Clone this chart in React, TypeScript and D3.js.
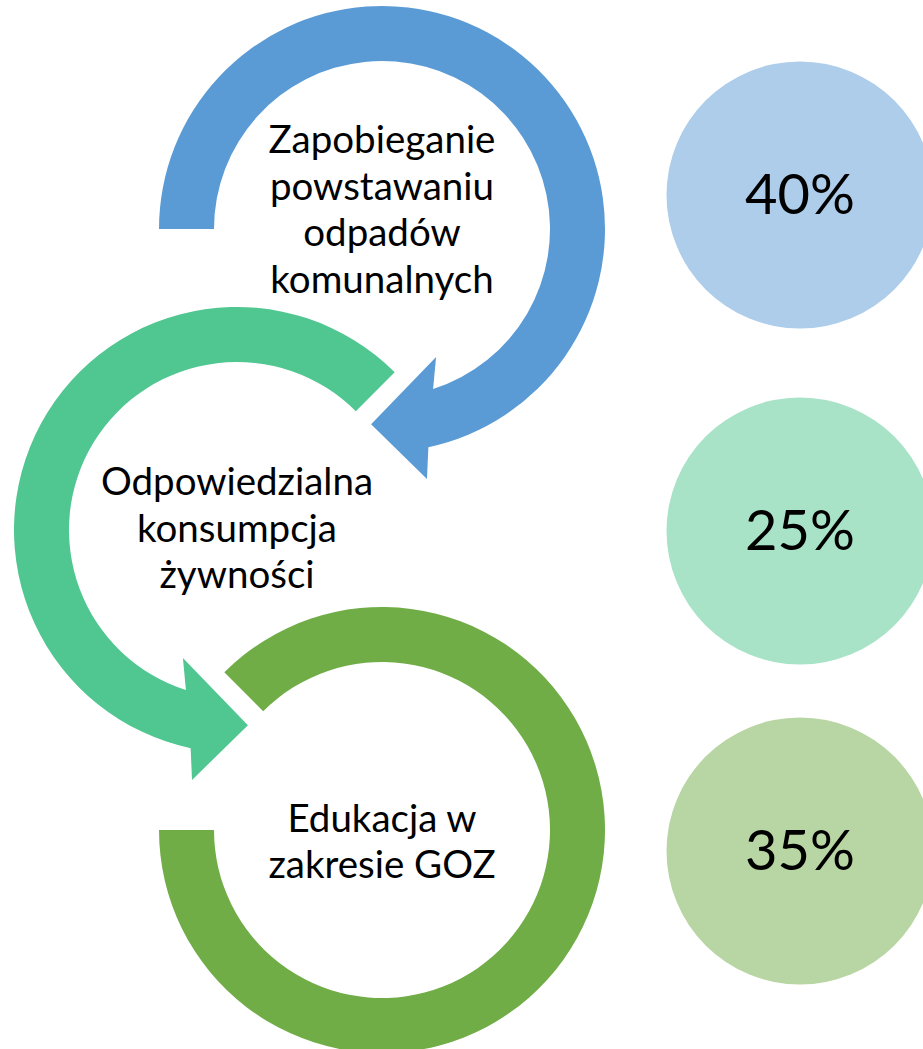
import React from "react";
import * as d3 from "d3";

// ---- data ----
const stageLines: string[][] = [
  ["Zapobieganie", "powstawaniu", "odpadów", "komunalnych"],
  ["Odpowiedzialna", "konsumpcja", "żywności"],
  ["Edukacja w", "zakresie GOZ"],
];
const shares: number[] = [40, 25, 35];
const stageColors: string[] = ["#5B9BD5", "#50C690", "#70AD47"];

// ---- layout ----
const W = 923;
const H = 1049;
const R_OUT = 223;
const R_IN = 168;
const ringCenters: [number, number][] = [
  [382, 229],
  [237, 530],
  [382, 830],
];
const textShift = [-6, 11.5, 25];
const LINE_H = 46.7;
const circleCenters: [number, number][] = [
  [800, 195],
  [800, 531],
  [800, 851],
];
const CIRCLE_R = 133.5;

const rad = (deg: number) => (deg * Math.PI) / 180;
const pt = (cx: number, cy: number, deg: number, r: number): [number, number] => [
  cx + r * Math.cos(rad(deg)),
  cy + r * Math.sin(rad(deg)),
];

// arrow ring with arrowhead; dir = 1 clockwise, -1 anticlockwise
function arrowPath(cx: number, cy: number, start: number, end: number, dir: number) {
  const p = d3.path();
  const s = pt(cx, cy, start, R_OUT);
  p.moveTo(s[0], s[1]);
  p.arc(cx, cy, R_OUT, rad(start), rad(end), dir < 0);
  const ow = pt(cx, cy, end + dir * 1.8, 254);
  const tip = pt(cx, cy, end + dir * 15.2, 195.5);
  const iw = pt(cx, cy, end - dir * 10.9, 139);
  const ib = end - dir * 5.7;
  p.lineTo(ow[0], ow[1]);
  p.lineTo(tip[0], tip[1]);
  p.lineTo(iw[0], iw[1]);
  const ibp = pt(cx, cy, ib, R_IN);
  p.lineTo(ibp[0], ibp[1]);
  p.arc(cx, cy, R_IN, rad(ib), rad(start), dir > 0);
  p.closePath();
  return p.toString();
}

function ringPath(cx: number, cy: number, start: number, end: number) {
  const p = d3.path();
  const s = pt(cx, cy, start, R_OUT);
  p.moveTo(s[0], s[1]);
  p.arc(cx, cy, R_OUT, rad(start), rad(end), false);
  const e = pt(cx, cy, end, R_IN);
  p.lineTo(e[0], e[1]);
  p.arc(cx, cy, R_IN, rad(end), rad(start), true);
  p.closePath();
  return p.toString();
}

const tint = (c: string) => {
  const col = d3.rgb(c);
  return d3.rgb((col.r + 255) / 2, (col.g + 255) / 2, (col.b + 255) / 2).formatHex();
};

export default function App() {
  const paths = [
    arrowPath(ringCenters[0][0], ringCenters[0][1], 180, 438, 1),
    arrowPath(ringCenters[1][0], ringCenters[1][1], 315, 102, -1),
    ringPath(ringCenters[2][0], ringCenters[2][1], 225, 540),
  ];
  const font = "Lato, 'Open Sans', sans-serif";
  return (
    <svg
      width={W}
      height={H}
      viewBox={`0 0 ${W} ${H}`}
      style={{ position: "absolute", left: 0, top: 0, background: "#fff" }}
    >
      {paths.map((d, i) => (
        <path key={i} d={d} fill={stageColors[i]} />
      ))}
      {stageLines.map((lines, i) => {
        const [cx, cy] = ringCenters[i];
        const n = lines.length;
        return (
          <text key={i} fontFamily={font} fontSize={38.5} fill="#000" textAnchor="middle">
            {lines.map((l, j) => (
              <tspan key={j} x={cx} y={cy + textShift[i] + (j - (n - 1) / 2) * LINE_H}>
                {l}
              </tspan>
            ))}
          </text>
        );
      })}
      {shares.map((v, i) => {
        const [cx, cy] = circleCenters[i];
        return (
          <g key={i}>
            <circle cx={cx} cy={cy} r={CIRCLE_R} fill={tint(stageColors[i])} />
            <text x={cx} y={cy + 19} fontFamily={font} fontSize={56} textAnchor="middle" fill="#000">
              {`${v}%`}
            </text>
          </g>
        );
      })}
    </svg>
  );
}
